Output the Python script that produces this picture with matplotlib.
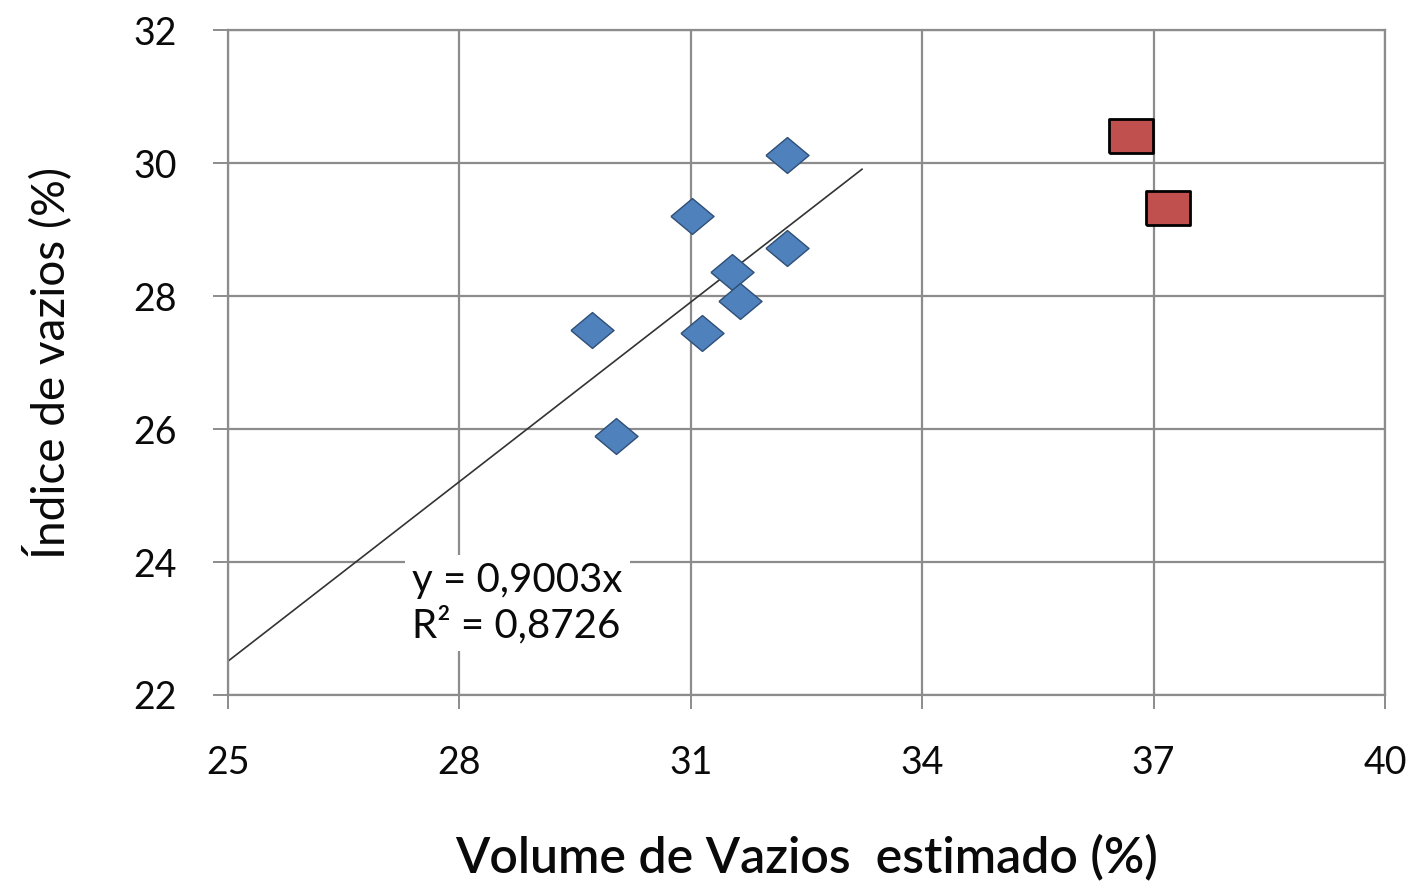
import matplotlib
matplotlib.use("Agg")
import matplotlib.pyplot as plt
import numpy as np

# ---- data ----
blue_x = [32.25, 31.02, 31.53, 32.25, 31.64, 29.72, 31.15, 30.03]
blue_y = [30.12, 29.20, 28.36, 28.72, 27.92, 27.49, 27.44, 25.89]
red_x = [36.71, 37.19]
red_y = [30.41, 29.32]
slope = 0.9003
trend_x = [25.0, 33.22]
x_ticks = [25, 28, 31, 34, 37, 40]
y_ticks = [22, 24, 26, 28, 30, 32]

plt.rcParams["font.family"] = ["Lato", "DejaVu Sans"]

# wide markers (the source image is horizontally stretched)
diamond = [(-1.2, 0), (0, 1), (1.2, 0), (0, -1), (-1.2, 0)]
rect = [(-1.25, -1), (1.25, -1), (1.25, 1), (-1.25, 1), (-1.25, -1)]

fig = plt.figure(figsize=(14.22, 8.86), dpi=100)
ax = fig.add_axes([0.1603, 0.2156, 0.974 - 0.1603, 0.966 - 0.2156])

grid_c = "#8c8c8c"
ax.set_xlim(25, 40)
ax.set_ylim(22, 32)
ax.set_xticks(x_ticks)
ax.set_yticks(y_ticks)
ax.grid(True, color=grid_c, linewidth=1.6, zorder=0)
ax.set_axisbelow(True)
for s in ax.spines.values():
    s.set_color(grid_c)
    s.set_linewidth(1.6)

ax.tick_params(axis="y", length=11, width=1.4, color=grid_c, pad=26,
               labelsize=27, labelcolor="#0a0a0a")
ax.tick_params(axis="x", length=10, width=1.4, color=grid_c, pad=26,
               labelsize=27, labelcolor="#0a0a0a")

# trendline
tx = np.array(trend_x)
ax.plot(tx, slope * tx, color="#333333", linewidth=1.2, zorder=2)

ax.plot(blue_x, blue_y, linestyle="none", marker=diamond, markersize=31,
        markerfacecolor="#4F81BD", markeredgecolor="#2f4f75",
        markeredgewidth=1.0, zorder=3)
ax.plot(red_x, red_y, linestyle="none", marker=rect, markersize=31,
        markerfacecolor="#C0504D", markeredgecolor="#000000",
        markeredgewidth=2.0, zorder=3)

ax.text(27.39, 23.38, "y = 0,9003x\nR² = 0,8726", fontsize=29,
        color="#0a0a0a", ha="left", va="center", linespacing=1.2,
        bbox=dict(facecolor="white", edgecolor="none", pad=5), zorder=4)

ax.set_xlabel("Volume de Vazios  estimado (%)", fontsize=36, labelpad=38,
              fontweight="semibold", color="#0a0a0a")
ax.set_ylabel("Índice de vazios (%)", fontsize=33, labelpad=44,
              color="#0a0a0a")

fig.savefig("out.png", dpi=100)
